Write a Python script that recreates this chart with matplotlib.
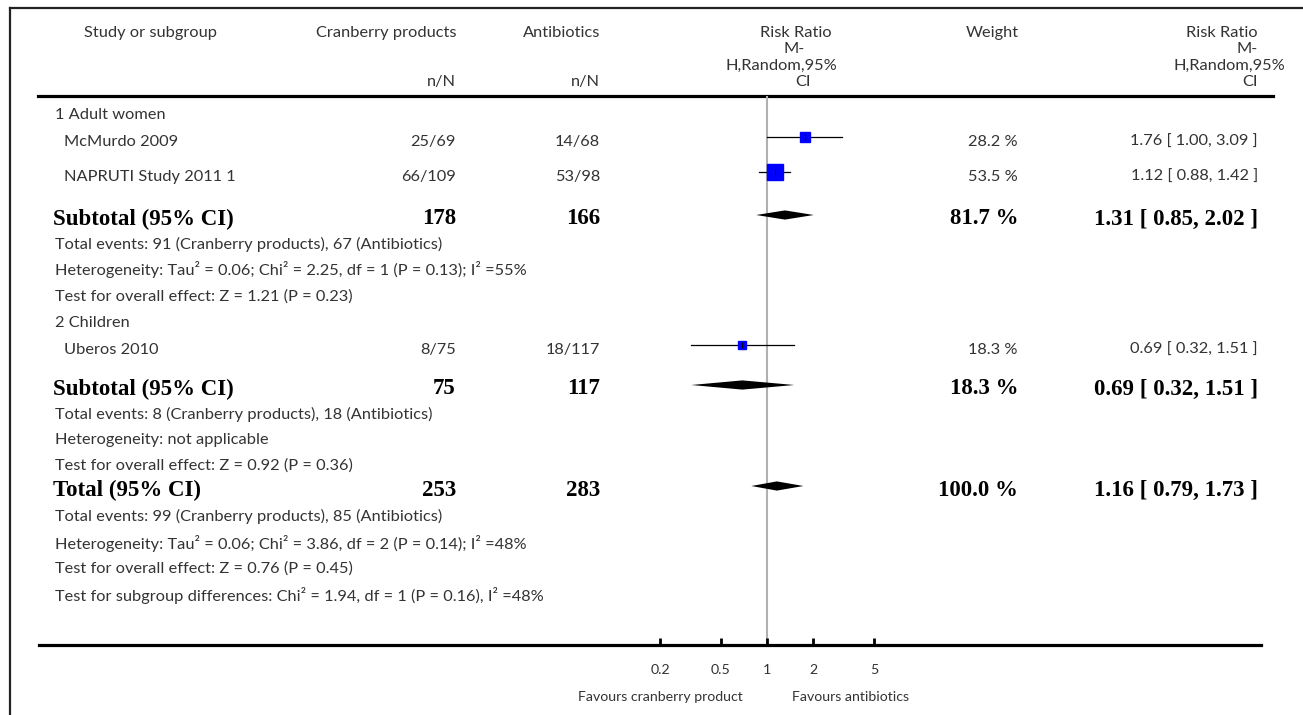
import numpy as np
import matplotlib.pyplot as plt

# study level data
studies = ['McMurdo 2009', 'NAPRUTI Study 2011 1', 'Uberos 2010']
cran_n = [25, 66, 8]
cran_N = [69, 109, 75]
abx_n = [14, 53, 18]
abx_N = [68, 98, 117]
rr = [1.76, 1.12, 0.69]
rr_lo = [1.00, 0.88, 0.32]
rr_hi = [3.09, 1.42, 1.51]
weights = [28.2, 53.5, 18.3]

# subgroups
subgroups = ['1 Adult women', '2 Children']
sub_cran_N = [178, 75]
sub_abx_N = [166, 117]
sub_rr = [1.31, 0.69]
sub_lo = [0.85, 0.32]
sub_hi = [2.02, 1.51]
sub_w = [81.7, 18.3]
sub_notes = [
    ['Total events: 91 (Cranberry products), 67 (Antibiotics)',
     'Heterogeneity: Tau² = 0.06; Chi² = 2.25, df = 1 (P = 0.13); I² =55%',
     'Test for overall effect: Z = 1.21 (P = 0.23)'],
    ['Total events: 8 (Cranberry products), 18 (Antibiotics)',
     'Heterogeneity: not applicable',
     'Test for overall effect: Z = 0.92 (P = 0.36)'],
]

# overall
tot_cran_N = 253
tot_abx_N = 283
tot_rr, tot_lo, tot_hi = 1.16, 0.79, 1.73
tot_w = 100.0
tot_notes = ['Total events: 99 (Cranberry products), 85 (Antibiotics)',
             'Heterogeneity: Tau² = 0.06; Chi² = 3.86, df = 2 (P = 0.14); I² =48%',
             'Test for overall effect: Z = 0.76 (P = 0.45)',
             'Test for subgroup differences: Chi² = 1.94, df = 1 (P = 0.16), I² =48%']

ticks = [0.2, 0.5, 1, 2, 5]
tick_labels = ['0.2', '0.5', '1', '2', '5']

W, H = 1303, 715
SANS = 'Lato'
SERIF = 'Liberation Serif'
TXT = '#333333'
fs = 11.8
sfs = 10.2
bfs = 16.5

fig = plt.figure(figsize=(W / 100, H / 100), dpi=100)
ax = fig.add_axes([0, 0, 1, 1])
ax.set_xlim(0, W)
ax.set_ylim(H, 0)
ax.axis('off')

# forest axes, log scale, 1 at pixel 767, 153 px per decade
x1, dec = 767, 153
top, bot = 96, 645
fax = fig.add_axes([0, (H - bot) / H, 1, (bot - top) / H])
fax.set_xscale('log')
fax.set_xlim(10 ** ((0 - x1) / dec), 10 ** ((W - x1) / dec))
fax.set_ylim(bot, top)
fax.patch.set_alpha(0)
for s in ['top', 'left', 'right']:
    fax.spines[s].set_visible(False)
fax.spines['bottom'].set_linewidth(2.3)
fax.spines['bottom'].set_bounds(10 ** ((39 - x1) / dec), 10 ** ((1261 - x1) / dec))
fax.set_yticks([])
fax.set_xticks(ticks)
fax.set_xticklabels(tick_labels)
fax.minorticks_off()
fax.tick_params(axis='x', direction='in', length=5, width=2, pad=14,
                labelsize=sfs, labelcolor=TXT)
for lab in fax.get_xticklabels():
    lab.set_family(SANS)
fax.axvline(1, color='#b0b0b0', lw=1.5, zorder=0)

# frame and header
ax.plot([10, W], [8, 8], color='#222222', lw=1.6)
ax.plot([10, 10], [8, H], color='#222222', lw=1.6)
ax.plot([38, 1273], [96, 96], color='black', lw=2.3)


def t(x, y, s, ha='left', bold=False, size=None, **kw):
    if bold:
        ax.text(x, y, s, ha=ha, va='center', family=SERIF, weight='bold',
                fontsize=bfs, color='black', **kw)
    else:
        ax.text(x, y, s, ha=ha, va='center', family=SANS, fontsize=size or fs,
                color=TXT, **kw)


t(150, 33, 'Study or subgroup', ha='center')
t(456, 33, 'Cranberry products', ha='right')
t(600, 33, 'Antibiotics', ha='right')
t(456, 82, 'n/N', ha='right')
t(600, 82, 'n/N', ha='right')
t(796, 33, 'Risk Ratio', ha='center')
t(794, 49, 'M-', ha='center')
t(781, 66, 'H,Random,95%', ha='center')
t(803, 82, 'CI', ha='center')
t(1019, 33, 'Weight', ha='right')
t(1258, 33, 'Risk Ratio', ha='right')
t(1258, 49, 'M-', ha='right')
t(1285, 66, 'H,Random,95%', ha='right')
t(1258, 82, 'CI', ha='right')

# rows
group_rows = [0, 1], [2]
head_y = [115, 323]
study_y = [[142, 177], [350]]
sub_y = [219, 389]
note_y = [[244, 270, 297], [414, 440, 466]]


def box(i, y):
    side = 2.07 * np.sqrt(weights[i]) / 1.389
    fax.plot([rr_lo[i], rr_hi[i]], [y, y], color='black', lw=0.9, clip_on=False)
    fax.plot(rr[i], y, 's', ms=side, color='#0000ff', mec='#0000ff', clip_on=False)
    fax.plot(rr[i], y, '|', ms=4, mew=0.8, color='black', clip_on=False)


def diamond(lo, est, hi, y):
    fax.fill([lo, est, hi, est], [y, y - 4.6, y, y + 4.6], color='black', lw=0)


for g, rows in enumerate(group_rows):
    t(55, head_y[g], subgroups[g])
    for k, i in enumerate(rows):
        y = study_y[g][k]
        t(64, y, studies[i])
        t(456, y, f'{cran_n[i]}/{cran_N[i]}', ha='right')
        t(600, y, f'{abx_n[i]}/{abx_N[i]}', ha='right')
        t(1018, y, f'{weights[i]:.1f} %', ha='right')
        t(1258, y, f'{rr[i]:.2f} [ {rr_lo[i]:.2f}, {rr_hi[i]:.2f} ]', ha='right')
        box(i, y - 5)
    y = sub_y[g]
    t(53, y, 'Subtotal (95% CI)', bold=True)
    t(456, y, str(sub_cran_N[g]), ha='right', bold=True)
    t(600, y, str(sub_abx_N[g]), ha='right', bold=True)
    t(1018, y, f'{sub_w[g]:.1f} %', ha='right', bold=True)
    t(1258, y, f'{sub_rr[g]:.2f} [ {sub_lo[g]:.2f}, {sub_hi[g]:.2f} ]', ha='right', bold=True)
    diamond(sub_lo[g], sub_rr[g], sub_hi[g], y - 4)
    for k, s in enumerate(sub_notes[g]):
        t(55, note_y[g][k], s)

y = 490
t(53, y, 'Total (95% CI)', bold=True)
t(456, y, str(tot_cran_N), ha='right', bold=True)
t(600, y, str(tot_abx_N), ha='right', bold=True)
t(1018, y, f'{tot_w:.1f} %', ha='right', bold=True)
t(1258, y, f'{tot_rr:.2f} [ {tot_lo:.2f}, {tot_hi:.2f} ]', ha='right', bold=True)
diamond(tot_lo, tot_rr, tot_hi, y - 4)
for k, s in enumerate(tot_notes):
    t(55, [516, 543, 569, 596][k], s)

t(743, 697, 'Favours cranberry product', ha='right', size=sfs)
t(792, 697, 'Favours antibiotics', size=sfs)

fig.savefig('out.png', dpi=100)
